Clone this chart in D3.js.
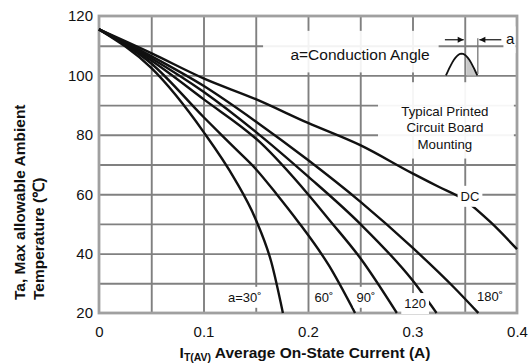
<!DOCTYPE html>
<html>
<head>
<meta charset="utf-8">
<script src="https://cdn.jsdelivr.net/npm/d3@7"></script>
<style>
  body { margin: 0; background: #fff; }
  svg { font-family: "Liberation Sans", Arial, sans-serif; }
</style>
</head>
<body>
<div id="chart"></div>
<script>
// tick values
const xTickLabels = [0, 0.1, 0.2, 0.3, 0.4];
const yTickLabels = [20, 40, 60, 80, 100, 120];
const xGrid = [0.05, 0.1, 0.15, 0.2, 0.25, 0.3, 0.35];
const yGrid = [30, 40, 50, 60, 70, 80, 90, 100, 110];

// curves: [current (A), max ambient temp (C)]
const curve30 = [[0, 115.5], [0.05, 102.5], [0.1, 81], [0.13, 65], [0.15, 51.5], [0.165, 37], [0.176, 20]];
const curve60 = [[0, 115.5], [0.05, 104], [0.1, 86], [0.13, 75.5], [0.15, 68.5], [0.17, 60], [0.19, 51], [0.22, 36], [0.245, 20]];
const curve90 = [[0, 115.5], [0.05, 105], [0.1, 92], [0.154, 77.5], [0.2, 60], [0.22, 51.5], [0.25, 38.5], [0.285, 20]];
const curve120 = [[0, 115.5], [0.05, 105.8], [0.1, 94.5], [0.15, 81], [0.2, 66], [0.25, 50], [0.3, 31], [0.323, 20]];
const curve180 = [[0, 115.5], [0.05, 106.5], [0.1, 96.5], [0.15, 84.5], [0.2, 71.5], [0.25, 57.5], [0.3, 42], [0.34, 28.5], [0.363, 20]];
const curveDC = [[0, 115.5], [0.05, 107.5], [0.1, 99], [0.15, 92], [0.2, 84], [0.25, 76.5], [0.3, 67], [0.325, 62.5], [0.35, 58], [0.375, 50.5], [0.4, 41.5]];

const curves = [curve30, curve60, curve90, curve120, curve180, curveDC];

// curve labels: text, current, temp (label centre)
const curveLabels = [
  { text: "a=30˚", i: 0.1395, t: 25.3 },
  { text: "60˚", i: 0.2153, t: 25.3 },
  { text: "90˚", i: 0.2555, t: 25.3 },
  { text: "120", i: 0.3025, t: 23.2 },
  { text: "180˚", i: 0.3742, t: 25.6 },
  { text: "DC", i: 0.355, t: 59.3 }
];

const noteLines = ["Typical Printed", "Circuit Board", "Mounting"];

const W = 530, H = 363;
const margin = { top: 16, right: 13, bottom: 50, left: 99 };
const width = W - margin.left - margin.right,
  height = H - margin.top - margin.bottom;

const svg = d3.select("#chart")
  .append("svg")
  .attr("width", W)
  .attr("height", H);

const g = svg.append("g")
  .attr("transform", `translate(${margin.left}, ${margin.top})`);

const x = d3.scaleLinear().domain([0, 0.4]).range([0, width]);
const y = d3.scaleLinear().domain([20, 120]).range([height, 0]);

// grid lines
g.append("g")
  .attr("transform", `translate(0, ${height})`)
  .call(d3.axisBottom(x).tickValues(xGrid).tickSize(-height).tickFormat(""))
  .call(a => a.select(".domain").remove())
  .call(a => a.selectAll("line").attr("stroke", "#808080").attr("stroke-width", 1.9));
g.append("g")
  .call(d3.axisLeft(y).tickValues(yGrid).tickSize(-width).tickFormat(""))
  .call(a => a.select(".domain").remove())
  .call(a => a.selectAll("line").attr("stroke", "#808080").attr("stroke-width", 1.9));

// frame
g.append("rect")
  .attr("x", 0).attr("y", 0)
  .attr("width", width).attr("height", height)
  .attr("fill", "none")
  .attr("stroke", "#a0a0a0")
  .attr("stroke-width", 2.8);

// tick labels
g.append("g")
  .attr("transform", `translate(0, ${height})`)
  .call(d3.axisBottom(x).tickValues(xTickLabels).tickSize(0).tickPadding(13).tickFormat(d3.format("")))
  .call(a => a.select(".domain").remove())
  .selectAll("text")
  .style("font-size", "15px")
  .attr("fill", "#111");
g.append("g")
  .call(d3.axisLeft(y).tickValues(yTickLabels).tickSize(0).tickPadding(6))
  .call(a => a.select(".domain").remove())
  .selectAll("text")
  .style("font-size", "15px")
  .attr("fill", "#111");

// white panels behind the notes (under the curves)
g.append("rect")
  .attr("x", x(0.157)).attr("y", y(115))
  .attr("width", x(0.325) - x(0.157)).attr("height", y(101) - y(115))
  .attr("fill", "#fff").attr("opacity", 0.9);
g.append("rect")
  .attr("x", x(0.267)).attr("y", y(97.7))
  .attr("width", x(0.397) - x(0.267)).attr("height", y(72) - y(97.7))
  .attr("fill", "#fff").attr("opacity", 0.93);

// the curves
const line = d3.line()
  .x(d => x(d[0]))
  .y(d => y(d[1]))
  .curve(d3.curveMonotoneX);

g.selectAll(".curve")
  .data(curves)
  .join("path")
  .attr("class", "curve")
  .attr("d", line)
  .attr("fill", "none")
  .attr("stroke", "#111")
  .attr("stroke-width", 2.4);

// curve labels with white boxes
const lab = g.selectAll(".clabel")
  .data(curveLabels)
  .join("g")
  .attr("class", "clabel")
  .attr("transform", d => `translate(${x(d.i)}, ${y(d.t)})`);
lab.append("text")
  .attr("text-anchor", "middle")
  .attr("dy", "0.35em")
  .style("font-size", "13px")
  .attr("fill", "#111")
  .text(d => d.text);
lab.each(function () {
  const b = d3.select(this).select("text").node().getBBox();
  d3.select(this).insert("rect", "text")
    .attr("x", b.x - 3).attr("y", b.y - 3)
    .attr("width", b.width + 6).attr("height", b.height + 6)
    .attr("fill", "#fff");
});

// conduction angle note
g.append("text")
  .attr("x", x(0.2498)).attr("y", y(106.9))
  .attr("text-anchor", "middle")
  .attr("dy", "0.35em")
  .style("font-size", "15.5px")
  .attr("fill", "#111")
  .text("a=Conduction Angle");

// half sine wave symbol
const waveX0 = x(0.332), waveX1 = x(0.362), waveBase = y(100), waveTop = y(107.3);
const wave = d3.range(0, 1.0001, 0.05).map(t => [waveX0 + t * (waveX1 - waveX0), waveBase - Math.sin(t * Math.PI) * (waveBase - waveTop)]);
const cut = x(0.3515);
g.append("path")
  .attr("d", d3.area().x(d => d[0]).y0(waveBase).y1(d => d[1])(wave.filter(d => d[0] >= cut)))
  .attr("fill", "#c8c8c8");
g.append("path")
  .attr("d", d3.line()(wave))
  .attr("fill", "none")
  .attr("stroke", "#111")
  .attr("stroke-width", 1.8);
g.append("line")
  .attr("x1", x(0.3625)).attr("x2", x(0.3625))
  .attr("y1", y(112.5)).attr("y2", y(100.5))
  .attr("stroke", "#777").attr("stroke-width", 1.3);
g.append("line")
  .attr("x1", x(0.331)).attr("x2", x(0.349))
  .attr("y1", y(112)).attr("y2", y(112))
  .attr("stroke", "#111").attr("stroke-width", 1.2);
g.append("path")
  .attr("d", `M${x(0.349)},${y(112)} l-6,-3 v6 z`)
  .attr("fill", "#111");
g.append("line")
  .attr("x1", x(0.364)).attr("x2", x(0.385))
  .attr("y1", y(112)).attr("y2", y(112))
  .attr("stroke", "#111").attr("stroke-width", 1.2);
g.append("path")
  .attr("d", `M${x(0.364)},${y(112)} l6,-3 v6 z`)
  .attr("fill", "#111");
g.append("rect")
  .attr("x", x(0.387)).attr("y", y(116.5))
  .attr("width", x(0.4) - x(0.387) - 1.5).attr("height", y(107.5) - y(116.5))
  .attr("fill", "#fff");
g.append("text")
  .attr("x", x(0.3935)).attr("y", y(112.3))
  .attr("text-anchor", "middle")
  .attr("dy", "0.35em")
  .style("font-size", "15px")
  .attr("fill", "#111")
  .text("a");

// mounting note
const note = g.append("text")
  .attr("text-anchor", "middle")
  .style("font-size", "13.3px")
  .attr("fill", "#111");
noteLines.forEach((s, k) => {
  note.append("tspan")
    .attr("x", x(0.331))
    .attr("y", y(88) + k * 16.5 + 4.5)
    .text(s);
});

// axis titles
const xt = svg.append("text")
  .attr("x", 305).attr("y", 358)
  .attr("text-anchor", "middle")
  .style("font-size", "15.5px")
  .style("font-weight", "bold")
  .attr("fill", "#111");
xt.append("tspan").text("I");
xt.append("tspan").attr("dy", 3).style("font-size", "10.5px").text("T(AV)");
xt.append("tspan").attr("dy", -3).text(" Average On-State Current (A)");

const yt = svg.append("text")
  .attr("transform", "translate(0, 300) rotate(-90)")
  .attr("text-anchor", "start")
  .style("font-size", "15.5px")
  .style("font-weight", "bold")
  .attr("fill", "#111");
yt.append("tspan").attr("x", 0).attr("y", 25).text("Ta, Max allowable Ambient");
yt.append("tspan").attr("x", 0).attr("y", 44).text("Temperature (℃)");
</script>
</body>
</html>
